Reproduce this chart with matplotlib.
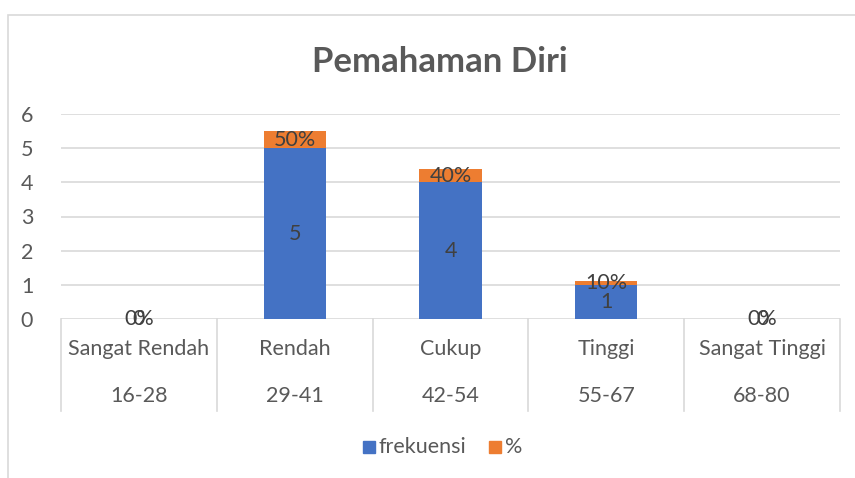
import matplotlib
matplotlib.use("Agg")
import matplotlib.pyplot as plt
from matplotlib.patches import Rectangle
from matplotlib.transforms import blended_transform_factory

categories = ["Sangat Rendah", "Rendah", "Cukup", "Tinggi", "Sangat Tinggi"]
ranges = ["16-28", "29-41", "42-54", "55-67", "68-80"]
frekuensi = [0, 5, 4, 1, 0]
persen = [0.0, 0.5, 0.4, 0.1, 0.0]

BLUE = "#4472c4"
ORANGE = "#ed7d31"
GRID = "#d9d9d9"
TXT = "#595959"
LBL = "#404040"
FS = 15.5

plt.rcParams["font.family"] = ["Lato", "DejaVu Sans"]

W, H = 855, 478
fig = plt.figure(figsize=(W / 100, H / 100), dpi=100)
ax = fig.add_axes([61 / W, 1 - 319 / H, (840 - 61) / W, (319 - 114) / H])

x = list(range(len(categories)))
ax.bar(x, frekuensi, width=0.4, color=BLUE, zorder=3)
ax.bar(x, persen, width=0.4, bottom=frekuensi, color=ORANGE, zorder=3)

for i in x:
    f, p = frekuensi[i], persen[i]
    ax.text(i, f / 2, f"{f}", ha="center", va="center", fontsize=FS, color=LBL, zorder=4)
    ax.text(i, f + p / 2, f"{p:.0%}", ha="center", va="center", fontsize=FS, color=LBL, zorder=4)

ax.set_xlim(-0.5, len(categories) - 0.5)
ax.set_ylim(0, 6)
ax.set_yticks(range(7))
ax.yaxis.grid(True, color=GRID, lw=1.2)
ax.set_axisbelow(True)
ax.tick_params(axis="y", length=0, labelsize=FS, labelcolor=TXT, pad=20)
ax.set_xticks([])
for s in ax.spines.values():
    s.set_visible(False)

# two-level category axis
tr = blended_transform_factory(ax.transData, ax.transAxes)
for b in range(len(categories) + 1):
    ax.plot([b - 0.5, b - 0.5], [0, -92 / 205], color=GRID, lw=1.2,
            transform=tr, clip_on=False)
for i in x:
    ax.text(i, -30 / 205, categories[i], ha="center", va="center",
            fontsize=FS, color=TXT, transform=tr)
    ax.text(i, -77 / 205, ranges[i], ha="center", va="center",
            fontsize=FS, color=TXT, transform=tr)

fig.suptitle("Pemahaman Diri", x=440 / W, y=1 - 62 / H, va="center",
             fontsize=25, fontweight="bold", color=TXT)

# legend
fig.add_artist(Rectangle((363 / W, 1 - 453 / H), 12 / W, 12 / H, color=BLUE))
fig.text(378 / W, 1 - 447 / H, "frekuensi", va="center", fontsize=FS, color=TXT)
fig.add_artist(Rectangle((489 / W, 1 - 453 / H), 12 / W, 12 / H, color=ORANGE))
fig.text(505 / W, 1 - 447 / H, "%", va="center", fontsize=FS, color=TXT)

# chart frame (cropped at right and bottom)
fig.add_artist(Rectangle((8 / W, -0.1), 2, 1 - 15 / H + 0.1, fill=False,
                         edgecolor=GRID, lw=1.2))

fig.savefig("out.png", dpi=100)
